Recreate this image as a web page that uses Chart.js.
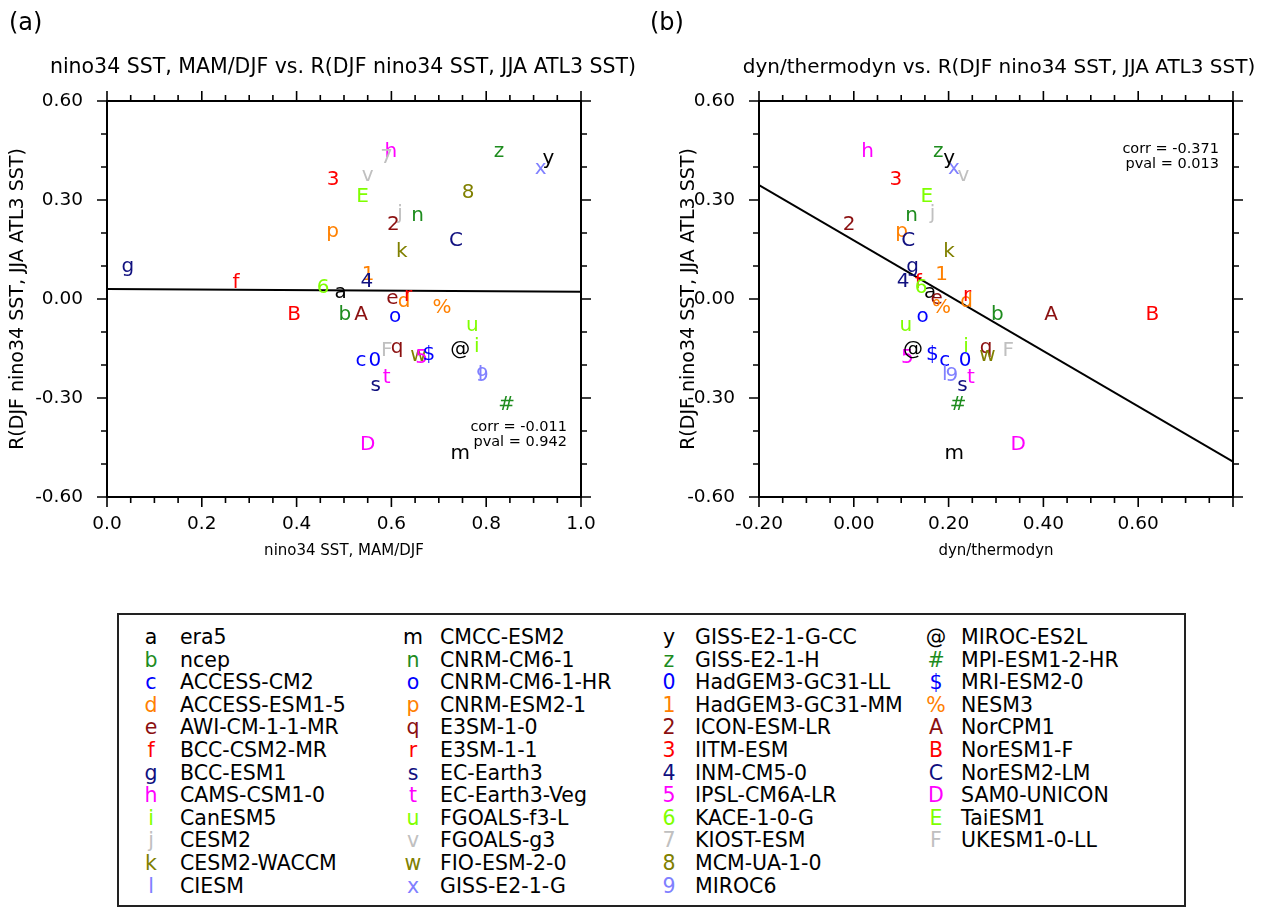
<!DOCTYPE html>
<html>
<head>
<meta charset="utf-8">
<script src="https://cdn.jsdelivr.net/npm/chart.js@4.4.1/dist/chart.umd.min.js"></script>
<style>
body{margin:0;background:#fff;width:1270px;height:907px;overflow:hidden;position:relative;font-family:"DejaVu Sans",sans-serif;}
canvas{position:absolute;top:0;}
.t{position:absolute;white-space:nowrap;color:#000;}
#legend{position:absolute;left:117px;top:613px;width:1069px;height:294px;border:2px solid #222;box-sizing:border-box;}
</style>
</head>
<body>
<canvas id="cA" width="635" height="600" style="left:0"></canvas>
<canvas id="cB" width="635" height="600" style="left:635px"></canvas>

<div class="t" style="left:9px;top:8px;font-size:24px">(a)</div>
<div class="t" style="left:650px;top:8px;font-size:24px">(b)</div>
<div class="t" style="left:343px;top:54px;font-size:20.5px;transform:translateX(-50%)">nino34 SST, MAM/DJF vs. R(DJF nino34 SST, JJA ATL3 SST)</div>
<div class="t" style="left:999px;top:54px;font-size:20px;transform:translateX(-50%)">dyn/thermodyn vs. R(DJF nino34 SST, JJA ATL3 SST)</div>
<div class="t" style="left:567px;top:419px;font-size:14.5px;line-height:15px;text-align:right;transform:translateX(-100%)">corr = -0.011<br>pval = 0.942</div>
<div class="t" style="left:1219px;top:141px;font-size:14.5px;line-height:15px;text-align:right;transform:translateX(-100%)">corr = -0.371<br>pval = 0.013</div>
<div id="legend"></div>

<script>
/* DATA */
const symbols = ["a","b","c","d","e","f","g","h","i","j","k","l",
  "m","n","o","p","q","r","s","t","u","v","w","x",
  "y","z","0","1","2","3","4","5","6","7","8","9",
  "@","#","$","%","A","B","C","D","E","F"];

const models = ["era5","ncep","ACCESS-CM2","ACCESS-ESM1-5","AWI-CM-1-1-MR","BCC-CSM2-MR","BCC-ESM1","CAMS-CSM1-0","CanESM5","CESM2","CESM2-WACCM","CIESM",
  "CMCC-ESM2","CNRM-CM6-1","CNRM-CM6-1-HR","CNRM-ESM2-1","E3SM-1-0","E3SM-1-1","EC-Earth3","EC-Earth3-Veg","FGOALS-f3-L","FGOALS-g3","FIO-ESM-2-0","GISS-E2-1-G",
  "GISS-E2-1-G-CC","GISS-E2-1-H","HadGEM3-GC31-LL","HadGEM3-GC31-MM","ICON-ESM-LR","IITM-ESM","INM-CM5-0","IPSL-CM6A-LR","KACE-1-0-G","KIOST-ESM","MCM-UA-1-0","MIROC6",
  "MIROC-ES2L","MPI-ESM1-2-HR","MRI-ESM2-0","NESM3","NorCPM1","NorESM1-F","NorESM2-LM","SAM0-UNICON","TaiESM1","UKESM1-0-LL"];

// R(DJF nino34 SST, JJA ATL3 SST)  (y in both panels)
const rVals = [0.019,-0.040,-0.186,-0.002,0.001,0.055,0.091,0.452,-0.137,0.259,0.150,-0.224,
  -0.467,0.252,-0.053,0.197,-0.152,0.010,-0.263,-0.232,-0.079,0.375,-0.172,0.394,
  0.421,0.448,-0.183,0.080,0.231,0.368,0.059,-0.174,0.039,0.434,0.327,-0.228,
  -0.154,-0.315,-0.166,-0.022,-0.042,-0.042,0.181,-0.435,0.316,-0.150];

// nino34 SST, MAM/DJF
const ratioVals = [0.493,0.502,0.536,0.627,0.602,0.272,0.044,0.599,0.780,0.618,0.622,0.788,
  0.745,0.655,0.608,0.476,0.612,0.635,0.567,0.590,0.771,0.550,0.657,0.915,
  0.931,0.827,0.565,0.551,0.604,0.477,0.548,0.664,0.456,0.590,0.762,0.792,
  0.745,0.843,0.679,0.707,0.536,0.395,0.736,0.550,0.539,0.590];

// dyn/thermodyn (7 and 8 missing)
const dynVals = [0.161,0.303,0.192,0.238,0.175,0.136,0.124,0.029,0.237,0.166,0.201,0.192,
  0.212,0.122,0.145,0.101,0.279,0.239,0.229,0.247,0.110,0.231,0.282,0.211,
  0.201,0.178,0.235,0.185,-0.010,0.089,0.104,0.113,0.142,null,null,0.207,
  0.125,0.220,0.166,0.185,0.416,0.630,0.115,0.347,0.154,0.326];

// regression lines (end points)
const fitAx = [0.0, 1.0];
const fitAy = [0.030, 0.022];
const fitBx = [-0.2, 0.8];
const fitBy = [0.345, -0.493];

const palette = ["#000000","#1e8c1e","#0000ff","#ff8000","#8b1010","#ff0000",
  "#10107f","#ff00ff","#7fff00","#c0c0c0","#808000","#8080ff"];

const FONT = '"DejaVu Sans", sans-serif';

/* PLUGINS */
const markerText = {
  id:"markerText",
  afterDatasetsDraw(chart){
    const ctx = chart.ctx;
    const ds = chart.data.datasets[0];
    const meta = chart.getDatasetMeta(0);
    ctx.save();
    ctx.font = "20px " + FONT;
    ctx.textAlign = "center";
    ctx.textBaseline = "alphabetic";
    meta.data.forEach((pt,k)=>{
      const i = ds.data[k].idx;
      const ch = symbols[i];
      const m = ctx.measureText(ch);
      ctx.fillStyle = palette[i % 12];
      ctx.fillText(ch, pt.x, pt.y + (m.actualBoundingBoxAscent - m.actualBoundingBoxDescent)/2);
    });
    ctx.restore();
  }
};

const nclFrame = {
  id:"nclFrame",
  afterDraw(chart, args, opts){
    const {ctx, chartArea:a, scales:{x,y}} = chart;
    ctx.save();
    ctx.strokeStyle = "#000";
    ctx.lineWidth = 2;
    ctx.strokeRect(a.left, a.top, a.right-a.left, a.bottom-a.top);
    ctx.lineWidth = 1.6;
    ctx.beginPath();
    const xs = (v,len)=>{
      const p = x.getPixelForValue(v);
      ctx.moveTo(p, a.bottom); ctx.lineTo(p, a.bottom+len);
      ctx.moveTo(p, a.top); ctx.lineTo(p, a.top-len);
    };
    const ys = (v,len)=>{
      const p = y.getPixelForValue(v);
      ctx.moveTo(a.left, p); ctx.lineTo(a.left-len, p);
      ctx.moveTo(a.right, p); ctx.lineTo(a.right+len, p);
    };
    for(let v=x.min; v<=x.max+1e-9; v+=opts.xMinor) xs(v,6);
    for(let v=y.min; v<=y.max+1e-9; v+=opts.yMinor) ys(v,6);
    x.ticks.forEach(t=>xs(t.value,10));
    y.ticks.forEach(t=>ys(t.value,10));
    ctx.stroke();
    ctx.restore();
  }
};

function fmt(v,d){
  if(Math.abs(v) < 1e-9) v = 0;
  return v.toFixed(d);
}

function makeChart(id, xVals, fitX, fitY, cfg){
  const pts = [];
  xVals.forEach((xv,i)=>{
    if(xv !== null) pts.push({x:xv, y:rVals[i], idx:i});
  });
  return new Chart(document.getElementById(id), {
    type:"scatter",
    data:{
      datasets:[
        { data:pts, pointRadius:0, pointHoverRadius:0, showLine:false },
        { type:"line", data:fitX.map((v,i)=>({x:v, y:fitY[i]})),
          borderColor:"#000", borderWidth:2, pointRadius:0, fill:false }
      ]
    },
    options:{
      responsive:false,
      animation:false,
      layout:{ padding:{ top:101, right:cfg.padRight, left:0, bottom:0 } },
      plugins:{
        legend:{ display:false },
        tooltip:{ enabled:false },
        nclFrame:{ xMinor:0.05, yMinor:0.1 }
      },
      scales:{
        x:{
          type:"linear", min:cfg.xMin, max:cfg.xMax,
          grid:{ display:false, drawTicks:false }, border:{ display:false },
          ticks:{ stepSize:0.2, autoSkip:false, maxRotation:0, padding:16, color:"#000",
            font:{ family:FONT, size:18.5 }, callback:cfg.xLabel },
          title:{ display:true, text:cfg.xTitle, color:"#000",
            font:{ family:FONT, size:15 }, padding:{ bottom:40 } },
          afterFit(s){ s.height = 103; }
        },
        y:{
          type:"linear", min:-0.6, max:0.6,
          grid:{ display:false, drawTicks:false }, border:{ display:false },
          ticks:{ stepSize:0.3, autoSkip:false, padding:24, color:"#000",
            font:{ family:FONT, size:18.5 }, callback:v=>fmt(v,2) },
          title:{ display:true, text:"R(DJF nino34 SST, JJA ATL3 SST)", color:"#000",
            font:{ family:FONT, size:19 }, padding:{ top:cfg.yTitlePad } },
          afterFit(s){ s.width = cfg.yWidth; }
        }
      }
    },
    plugins:[nclFrame, markerText]
  });
}

makeChart("cA", ratioVals, fitAx, fitAy, {
  xMin:0, xMax:1, padRight:54, yWidth:107, yTitlePad:7,
  xTitle:"nino34 SST, MAM/DJF", xLabel:v=>fmt(v,1)
});

makeChart("cB", dynVals, fitBx, fitBy, {
  xMin:-0.2, xMax:0.8, padRight:37, yWidth:124, yTitlePad:43,
  xTitle:"dyn/thermodyn", xLabel:v=>(v > 0.7 ? "" : fmt(v,2))
});

/* LEGEND */
const legend = document.getElementById("legend");
const colSym = [151, 413, 669, 936];
const colName = [180, 440, 695, 961];
symbols.forEach((s,i)=>{
  const col = Math.floor(i/12), row = i % 12;
  const cy = 637 + row*22.6 - 613 - 2;
  const a = document.createElement("div");
  a.className = "t";
  a.style.cssText = `left:${colSym[col]-117-2}px;top:${cy-12}px;font-size:20.5px;line-height:24px;transform:translateX(-50%);color:${palette[i%12]}`;
  a.textContent = s;
  legend.appendChild(a);
  const b = document.createElement("div");
  b.className = "t";
  b.style.cssText = `left:${colName[col]-117-2}px;top:${cy-12}px;font-size:20.5px;line-height:24px`;
  b.textContent = models[i];
  legend.appendChild(b);
});
</script>
</body>
</html>
